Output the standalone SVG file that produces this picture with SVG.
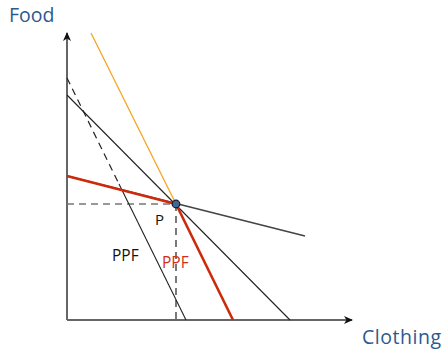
<svg xmlns="http://www.w3.org/2000/svg" width="444" height="349" viewBox="0 0 444 349">
<defs>
<marker id="arr" markerWidth="10" markerHeight="10" refX="8" refY="5" orient="auto" markerUnits="userSpaceOnUse">
<path d="M0,1 L9,5 L0,9 L2.5,5 Z" fill="#111"/>
</marker>
<style>
.lbl{font-family:"Open Sans","DejaVu Sans",sans-serif}
.ax{stroke:#666;stroke-width:2;fill:none}
.thin{stroke:#222;stroke-width:1.1;fill:none}
.red{stroke:#cc2a0a;stroke-width:2.6;fill:none}
</style>
</defs>
<rect width="444" height="349" fill="#fff"/>
<g id="connectors">
<line x1="67" y1="320" x2="67" y2="33" class="ax" marker-end="url(#arr)"/>
<line x1="67" y1="320" x2="352" y2="320" class="ax" marker-end="url(#arr)"/>
<line x1="67" y1="204" x2="176" y2="204" stroke="#777" stroke-width="1.6" stroke-dasharray="7,5"/>
<line x1="176" y1="204" x2="176" y2="320" stroke="#333" stroke-width="1.3" stroke-dasharray="7,5"/>
<line x1="91" y1="33" x2="176" y2="204" stroke="#f5a623" stroke-width="1.3"/>
<line x1="67" y1="95" x2="290" y2="320" class="thin"/>
<line x1="67" y1="176" x2="305" y2="236" stroke="#444" stroke-width="1.6"/>
<line x1="67" y1="78" x2="119" y2="184" stroke="#222" stroke-width="1.2" stroke-dasharray="7,5"/>
<line x1="119" y1="184" x2="186" y2="320" class="thin"/>
<line x1="67" y1="176" x2="176" y2="204" class="red"/>
<line x1="176" y1="204" x2="233" y2="320" class="red"/>
</g>
<g id="P">
<circle cx="176" cy="204" r="3.8" fill="#3b6a9a" stroke="#1a1a1a" stroke-width="1.2"/>
<text x="155" y="225" class="lbl" font-size="15" fill="#111">P</text>
</g>
<g id="ppf-black"><text x="112" y="261" class="lbl" font-size="15.5" fill="#111">PPF</text></g>
<g id="ppf-red"><text x="162" y="268" class="lbl" font-size="15.5" fill="#d0301a">PPF</text></g>
<g id="food"><text x="9" y="22" class="lbl" font-size="19.5" fill="#2b5a8c">Food</text></g>
<g id="clothing"><text x="362" y="344" class="lbl" font-size="19.5" fill="#2b5a8c" textLength="79">Clothing</text></g>
</svg>
